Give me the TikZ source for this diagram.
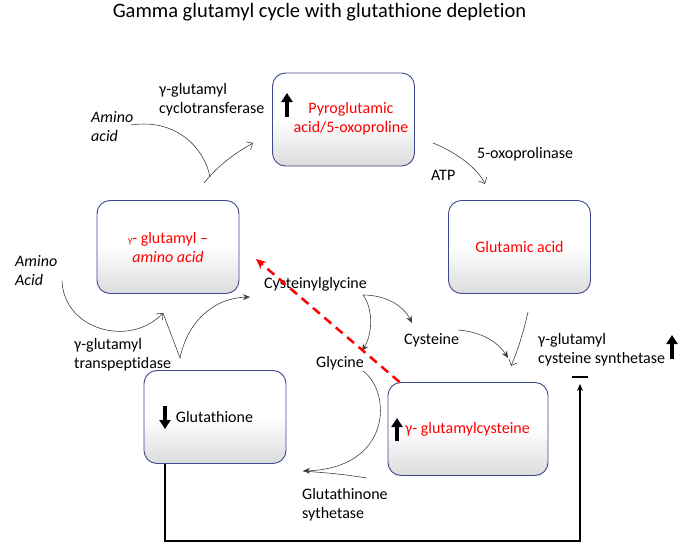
\documentclass[tikz,border=0pt]{standalone}
\usepackage{fontspec}
\setmainfont{Carlito}[Ligatures=NoCommon]
\usetikzlibrary{arrows.meta}

\definecolor{boxblue}{RGB}{62,72,140}

\begin{document}
\begin{tikzpicture}[x=1pt, y=-1pt, font=\fontsize{16}{19}\selectfont,
    box/.style={draw=boxblue, line width=0.9pt, rounded corners=13pt, minimum width=142pt, minimum height=93pt, top color=white, bottom color=black!14, middle color=white},
    lbl/.style={inner sep=0pt, align=left, anchor=west},
    conn/.style={draw=black!75, line width=0.6pt},
    fillarr/.style={conn, -{Stealth[length=7pt,width=6pt]}},
    openarr/.style={conn, -{Straight Barb[length=5pt,width=9pt]}},
    bigarr/.style={line width=3.5pt, -{Triangle[length=9pt,width=11pt]}}]

    \useasboundingbox (0,0) rectangle (678,549);

    \node(title)[font=\fontsize{20.5}{24}\selectfont] at (319.5,12) {Gamma glutamyl cycle with glutathione depletion};

    % boxes
    \node(pyro)[box] at (343.5,119.5) {};
    \node(glu)[box] at (519.5,247) {};
    \node(gaa)[box] at (168,247) {};
    \node(gsh)[box] at (215,417) {};
    \node(gcys)[box, minimum width=160pt] at (468,429) {};

    \node(pyrotxt)[red, align=center] at (351,119) {Pyroglutamic\\acid/5-oxoproline};
    \node(glutxt)[red] at (glu) {Glutamic acid};
    \node(gaatxt)[red, align=center] at (168,247.5) {{\fontsize{10}{12}\selectfont γ}- glutamyl –\\\textit{amino acid}};
    \node(gshtxt) at (214.5,417) {Glutathione};
    \node(gcystxt)[red] at (467.5,429) {γ- glutamylcysteine};

    \draw[bigarr] (287,117) -- (287,93);
    \draw[bigarr] (165,406) -- (165,429);
    \draw[bigarr] (397,441) -- (397,418);
    \draw[bigarr] (672,359) -- (672,335);

    % labels
    \node(ggcyc)[lbl] at (159,100) {γ-glutamyl\\cyclotransferase};
    \node(aa1)[lbl, font=\fontsize{16}{19}\selectfont\itshape] at (91,127) {Amino\\acid};
    \node(oxo)[lbl] at (477,154) {5-oxoprolinase};
    \node(atp)[lbl] at (431,175) {ATP};
    \node(aa2)[lbl, font=\fontsize{16}{19}\selectfont\itshape] at (15,271) {Amino\\Acid};
    \node(ggtp)[lbl] at (74,355) {γ-glutamyl\\transpeptidase};
    \node(cysgly)[lbl] at (264,284) {Cysteinylglycine};
    \node(gly)[lbl] at (316,363) {Glycine};
    \node(cys)[lbl] at (404,340) {Cysteine};
    \node(ggcs)[lbl] at (538,350) {γ-glutamyl\\cysteine synthetase};
    \node(gss)[lbl] at (302,505) {Glutathinone\\sythetase};

    % free ends
    \coordinate(aa1out) at (131,125);
    \coordinate(cycmid) at (210,177);
    \coordinate(cycin) at (204,183);
    \coordinate(cycout) at (253,143);
    \coordinate(oxoin) at (433,143);
    \coordinate(oxoout) at (485,184);
    \coordinate(aa2out) at (62,281);
    \coordinate(tpmid) at (163,313);
    \coordinate(tpin) at (180,358);
    \coordinate(tpout) at (250,297);
    \coordinate(cgout) at (363,295);
    \coordinate(glyin) at (362,351);
    \coordinate(cysin) at (412,323);
    \coordinate(cysout) at (458,330);
    \coordinate(synin) at (508,358);
    \coordinate(gluout) at (528,312);
    \coordinate(gluin) at (511,366);
    \coordinate(glyout) at (363,371);
    \coordinate(gssin) at (303,471);
    \coordinate(gssout) at (367,478);
    \coordinate(redout) at (256,259);
    \coordinate(fbcorner) at (580,541);
    \coordinate(fbin) at (580,384);

    \draw[conn] (aa1out) .. controls (178,118) and (205,150) .. (cycmid);
    \draw[openarr] (cycin) .. controls (218,166) and (232,155) .. (cycout);
    \draw[openarr] (oxoin) .. controls (455,152) and (477,167) .. (oxoout);

    \draw[openarr] (aa2out) .. controls (64,330) and (130,348) .. (tpmid);
    \draw[fillarr] (tpmid) -- (tpin) .. controls (188,320) and (215,298) .. (tpout);

    \draw[fillarr] (cgout) .. controls (374,310) and (372,335) .. (glyin);
    \draw[fillarr] (cgout) .. controls (385,295) and (403,305) .. (cysin);
    \draw[fillarr] (cysout) .. controls (485,332) and (500,345) .. (synin);
    \draw[openarr] (gluout) .. controls (524,330) and (518,350) .. (gluin);

    \draw[fillarr] (glyout) .. controls (392,392) and (392,468) .. (gssin);
    \draw[conn] (gssout) .. controls (340,474) .. (gssin);

    \draw[red, line width=2.5pt, dash pattern=on 9pt off 6pt, -{Stealth[length=10pt,width=9pt]}] ([xshift=12pt]gcys.north west) -- (redout);

    \draw[line width=1.2pt, -{Stealth[length=7pt,width=6pt]}] ([xshift=-50pt]gsh.south) |- (fbcorner) -- (fbin);
    \draw[line width=2.5pt] (572,377) -- (588,377);

\end{tikzpicture}
\end{document}
